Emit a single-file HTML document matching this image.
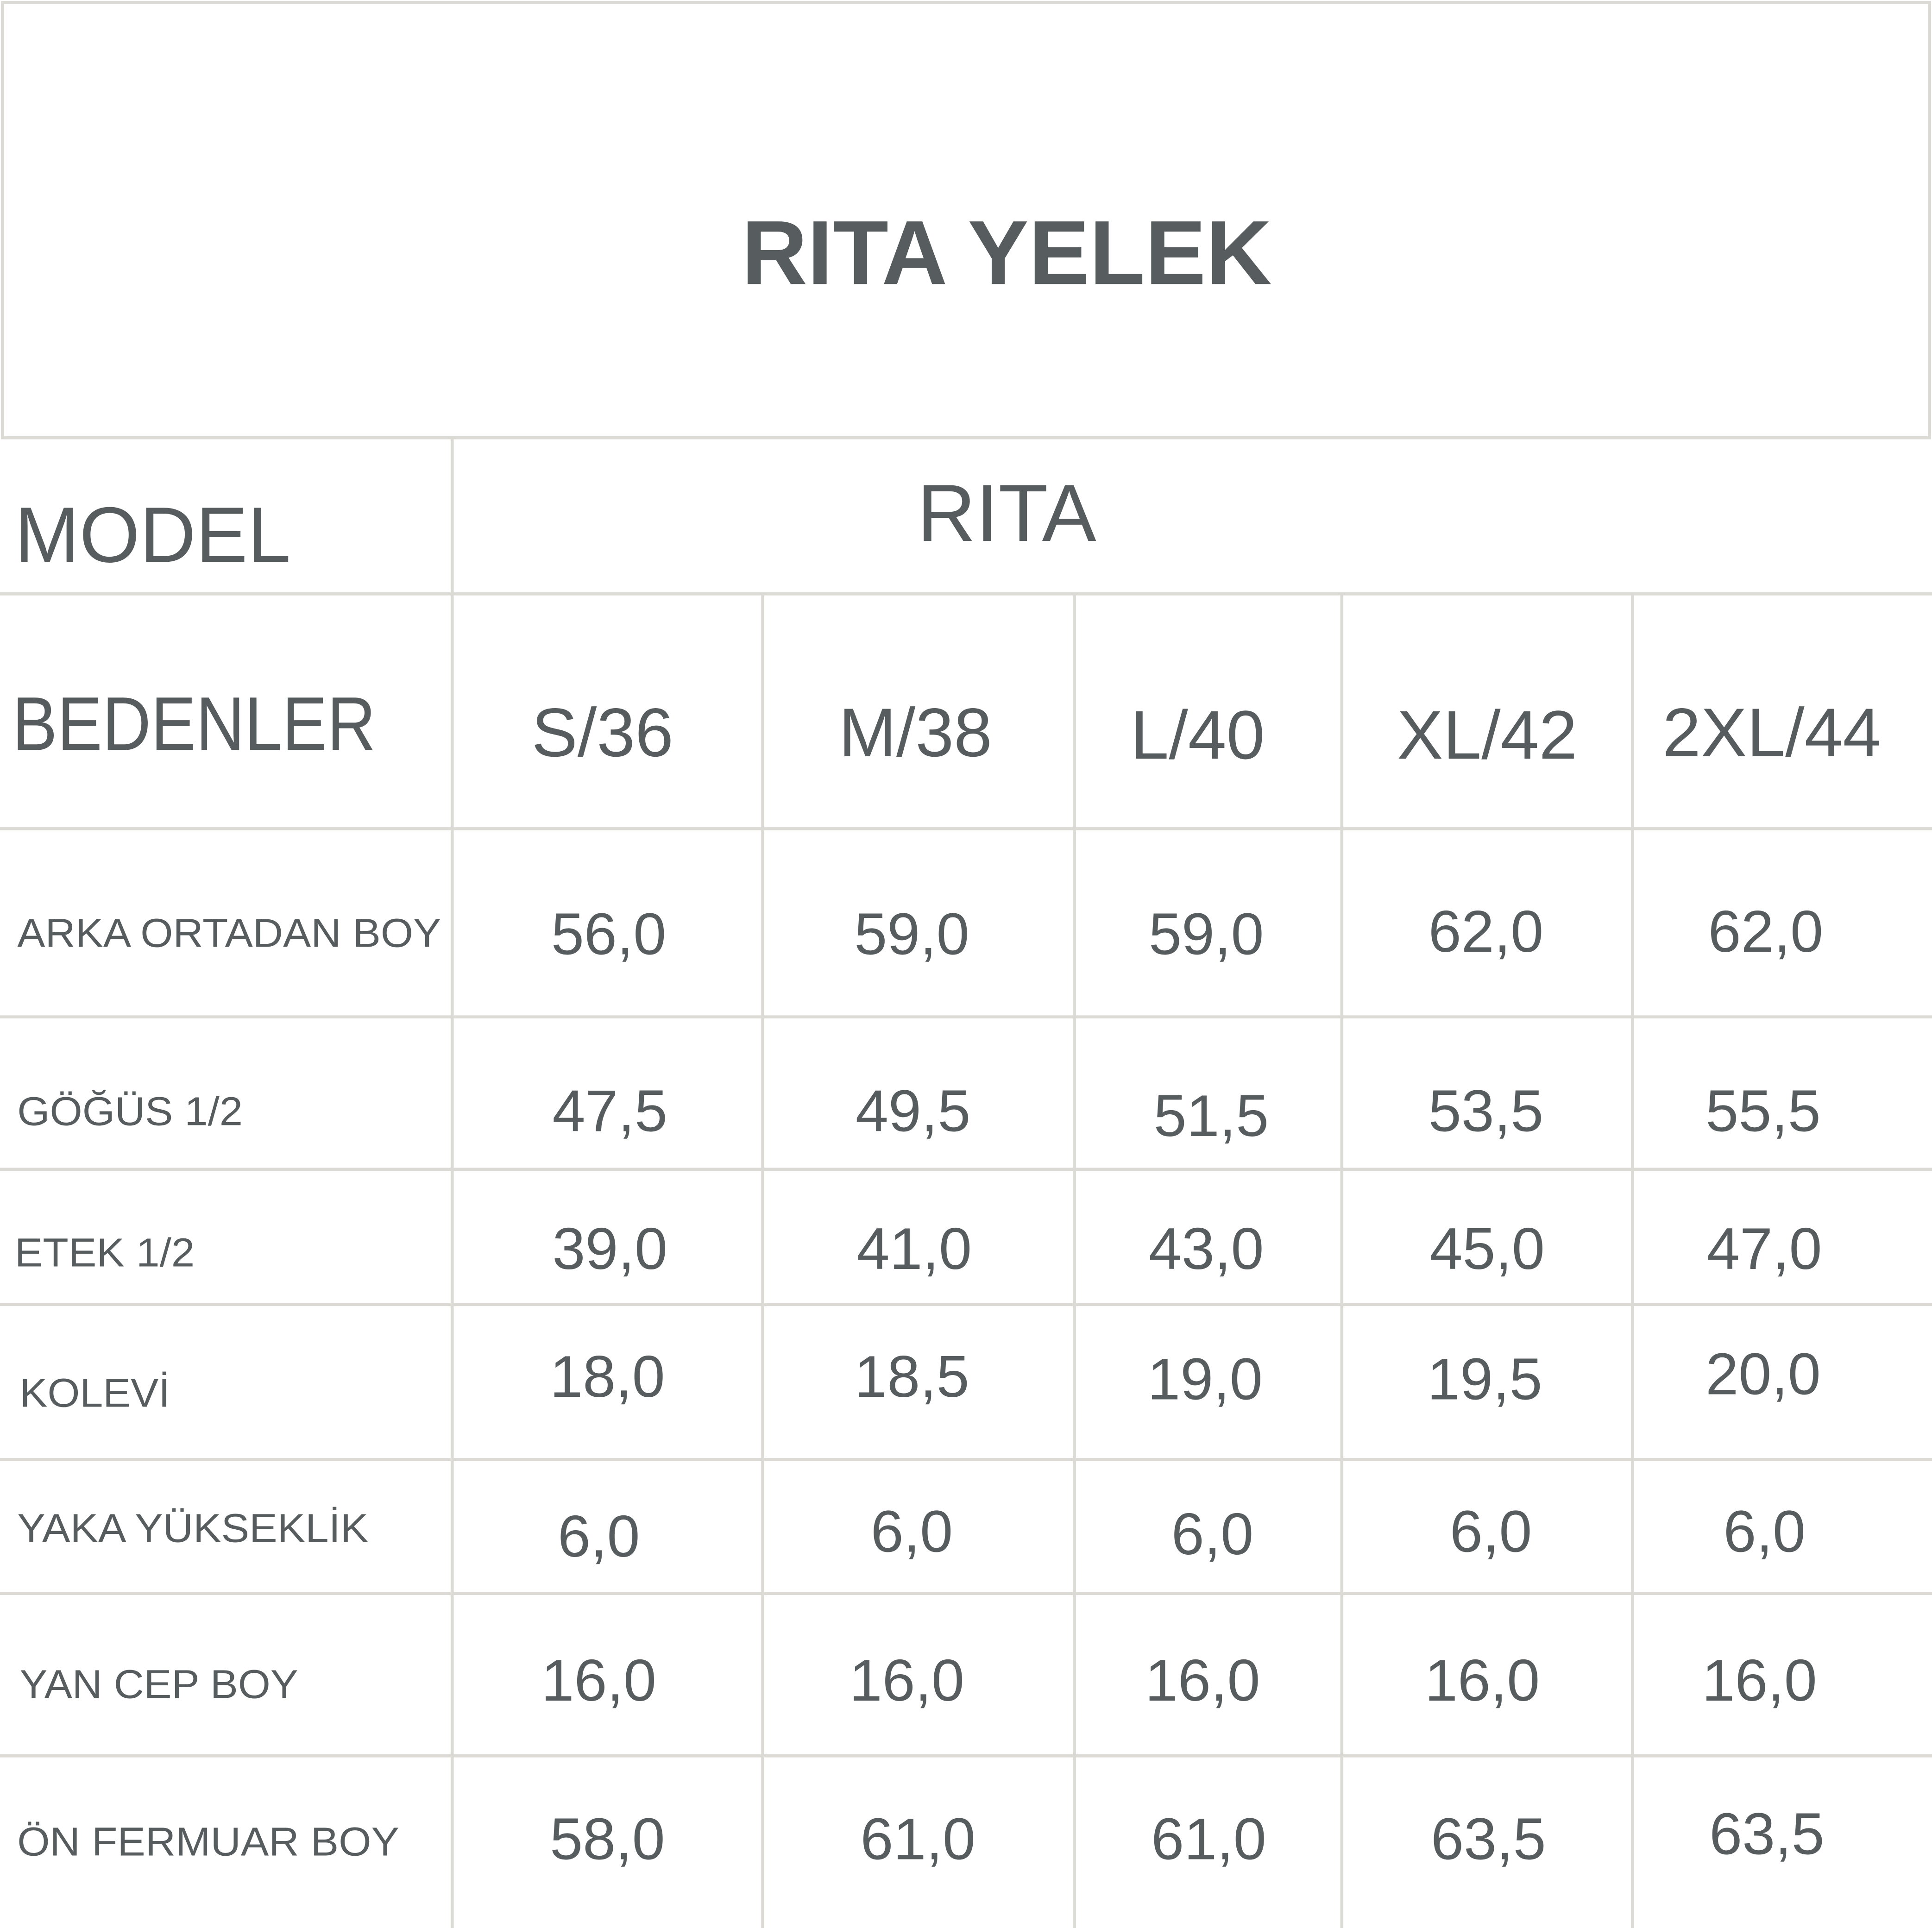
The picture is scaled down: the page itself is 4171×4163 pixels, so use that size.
<!DOCTYPE html>
<html><head><meta charset="utf-8"><style>html,body{margin:0;padding:0;background:#fff}svg{display:block}</style></head>
<body>
<svg width="4171" height="4163" viewBox="0 0 1568 1568" preserveAspectRatio="none" xmlns="http://www.w3.org/2000/svg">
<rect width="1568" height="1568" fill="#fff"/>
<g stroke="#dcdad4" stroke-width="2.5" fill="none">
<rect x="2" y="2" width="1564" height="354"/>
<line x1="0" y1="483" x2="1568" y2="483"/>
<line x1="0" y1="674" x2="1568" y2="674"/>
<line x1="0" y1="827" x2="1568" y2="827"/>
<line x1="0" y1="951" x2="1568" y2="951"/>
<line x1="0" y1="1061" x2="1568" y2="1061"/>
<line x1="0" y1="1187" x2="1568" y2="1187"/>
<line x1="0" y1="1296" x2="1568" y2="1296"/>
<line x1="0" y1="1428" x2="1568" y2="1428"/>
<line x1="367" y1="356" x2="367" y2="1568"/>
<line x1="619" y1="483" x2="619" y2="1568"/>
<line x1="872" y1="483" x2="872" y2="1568"/>
<line x1="1089" y1="483" x2="1089" y2="1568"/>
<line x1="1325" y1="483" x2="1325" y2="1568"/>
</g>
<g fill="#575c5e" font-family="Liberation Sans, Arial, sans-serif">
<text x="817" y="231" font-size="74" font-weight="bold" text-anchor="middle">RITA YELEK</text>
<text x="12" y="457" font-size="64" textLength="224" lengthAdjust="spacingAndGlyphs">MODEL</text>
<text x="817" y="440" font-size="66" text-anchor="middle">RITA</text>
<text x="10" y="610" font-size="62" textLength="295" lengthAdjust="spacingAndGlyphs">BEDENLER</text>
<g font-size="56" text-anchor="middle">
<text x="489" y="615">S/36</text><text x="743" y="615">M/38</text><text x="972" y="617">L/40</text><text x="1207" y="617">XL/42</text><text x="1438" y="615">2XL/44</text>
</g>
<g font-size="33">
<text x="14" y="770" textLength="344" lengthAdjust="spacingAndGlyphs">ARKA ORTADAN BOY</text>
<text x="14" y="915" textLength="183" lengthAdjust="spacingAndGlyphs">GÖĞÜS 1/2</text>
<text x="12" y="1030" textLength="146" lengthAdjust="spacingAndGlyphs">ETEK 1/2</text>
<text x="16" y="1144" textLength="122" lengthAdjust="spacingAndGlyphs">KOLEVİ</text>
<text x="14" y="1254" textLength="285" lengthAdjust="spacingAndGlyphs">YAKA YÜKSEKLİK</text>
<text x="16" y="1381" textLength="226" lengthAdjust="spacingAndGlyphs">YAN CEP BOY</text>
<text x="14" y="1509" textLength="310" lengthAdjust="spacingAndGlyphs">ÖN FERMUAR BOY</text>
</g>
<g font-size="48" text-anchor="middle">
<text x="494" y="776">56,0</text><text x="740" y="776">59,0</text><text x="979" y="776">59,0</text><text x="1206" y="774">62,0</text><text x="1433" y="774">62,0</text>
<text x="495" y="920">47,5</text><text x="741" y="920">49,5</text><text x="983" y="924">51,5</text><text x="1206" y="920">53,5</text><text x="1431" y="920">55,5</text>
<text x="495" y="1032">39,0</text><text x="742" y="1032">41,0</text><text x="979" y="1032">43,0</text><text x="1207" y="1032">45,0</text><text x="1432" y="1032">47,0</text>
<text x="493" y="1136">18,0</text><text x="740" y="1136">18,5</text><text x="978" y="1138">19,0</text><text x="1205" y="1138">19,5</text><text x="1431" y="1134">20,0</text>
<text x="486" y="1266">6,0</text><text x="740" y="1262">6,0</text><text x="984" y="1264">6,0</text><text x="1210" y="1262">6,0</text><text x="1432" y="1262">6,0</text>
<text x="486" y="1383">16,0</text><text x="736" y="1383">16,0</text><text x="976" y="1383">16,0</text><text x="1203" y="1383">16,0</text><text x="1428" y="1383">16,0</text>
<text x="493" y="1512">58,0</text><text x="745" y="1512">61,0</text><text x="981" y="1512">61,0</text><text x="1208" y="1512">63,5</text><text x="1434" y="1508">63,5</text>
</g>
</g>
</svg>
</body></html>
